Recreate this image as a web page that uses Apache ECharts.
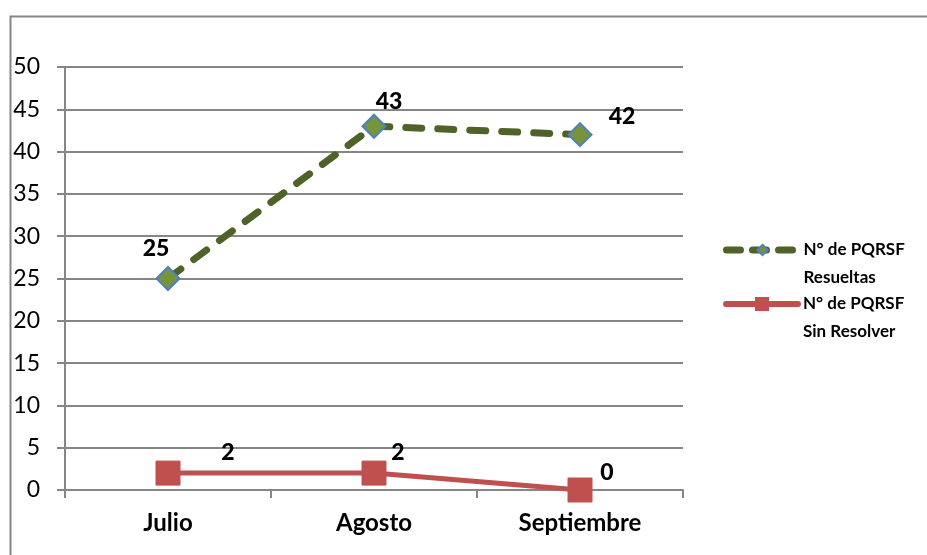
<!DOCTYPE html>
<html><head><meta charset="utf-8">
<script src="https://cdn.jsdelivr.net/npm/echarts@6/dist/echarts.min.js"></script>
<style>html,body{margin:0;padding:0;background:#fff}#c{width:927px;height:555px}</style>
</head><body><div id="c"></div>
<script>
const categories = ['Julio', 'Agosto', 'Septiembre'];
const resueltas = [25, 43, 42];
const sinResolver = [2, 2, 0];
const yTicks = [0, 50, 5];
const seriesNames = ['N° de PQRSF\nResueltas', 'N° de PQRSF\nSin Resolver'];

const resueltasOffsets = [[-12, -30], [15, -25], [42, -18]];
const sinOffsets = [[60, -21], [24, -21], [27, -17]];
const FONT = 'Lato';
const labelStyle = {show: true, position: 'inside', color: '#000', fontWeight: 900, fontSize: 23, fontFamily: FONT};

const chart = echarts.init(document.getElementById('c'), null, {renderer: 'canvas'});
const legendText = {color: '#000', fontWeight: 'bold', fontSize: 17, fontFamily: FONT, lineHeight: 28};
const legendFmt = name => ' \n' + name;
chart.setOption({
  animation: false,
  backgroundColor: '#fff',
  graphic: [{type: 'rect', shape: {x: 10.5, y: 16.5, width: 1000, height: 1000}, style: {fill: 'none', stroke: '#868686', lineWidth: 2}}],
  grid: {left: 65, right: 244, top: 67, bottom: 65},
  legend: [
    {data: [seriesNames[0]], left: 718, top: 203, itemWidth: 72, itemHeight: 13, textStyle: legendText, itemGap: 0, formatter: legendFmt,
     lineStyle: {width: 7, type: [14, 12], cap: 'round', color: '#4F6228'}},
    {data: [seriesNames[1]], left: 718, top: 257, itemWidth: 72, itemHeight: 15, textStyle: legendText, itemGap: 0, formatter: legendFmt,
     lineStyle: {width: 6, cap: 'round', color: '#C0504D'}}
  ],
  xAxis: {
    type: 'category', data: categories, boundaryGap: true,
    axisLine: {show: true, lineStyle: {color: '#868686', width: 2}},
    axisTick: {show: true, alignWithLabel: false, length: 8, lineStyle: {color: '#868686', width: 2}},
    axisLabel: {color: '#000', fontWeight: 'bold', fontSize: 24, fontFamily: FONT, margin: 21}
  },
  yAxis: {
    type: 'value', min: yTicks[0], max: yTicks[1], interval: yTicks[2],
    axisLine: {show: true, lineStyle: {color: '#868686', width: 2}},
    axisTick: {show: true, length: 8, lineStyle: {color: '#868686', width: 2}},
    splitLine: {show: true, lineStyle: {color: '#868686', width: 2}},
    axisLabel: {color: '#000', fontSize: 23, fontFamily: FONT, margin: 25}
  },
  series: [
    {
      name: seriesNames[0], type: 'line',
      data: resueltas.map((v, i) => ({value: v, label: Object.assign({}, labelStyle, {offset: resueltasOffsets[i]})})),
      symbol: 'diamond', symbolSize: 23,
      itemStyle: {color: '#77933C', borderColor: '#4F81BD', borderWidth: 2},
      lineStyle: {color: '#4F6228', width: 7, type: [16, 16], cap: 'round'},
      z: 3
    },
    {
      name: seriesNames[1], type: 'line',
      data: sinResolver.map((v, i) => ({value: v, label: Object.assign({}, labelStyle, {offset: sinOffsets[i]})})),
      symbol: 'rect', symbolSize: 24,
      itemStyle: {color: '#C0504D', borderColor: '#C0504D', borderWidth: 1},
      lineStyle: {color: '#C0504D', width: 5, cap: 'round'},
      z: 2
    }
  ]
});
</script></body></html>
